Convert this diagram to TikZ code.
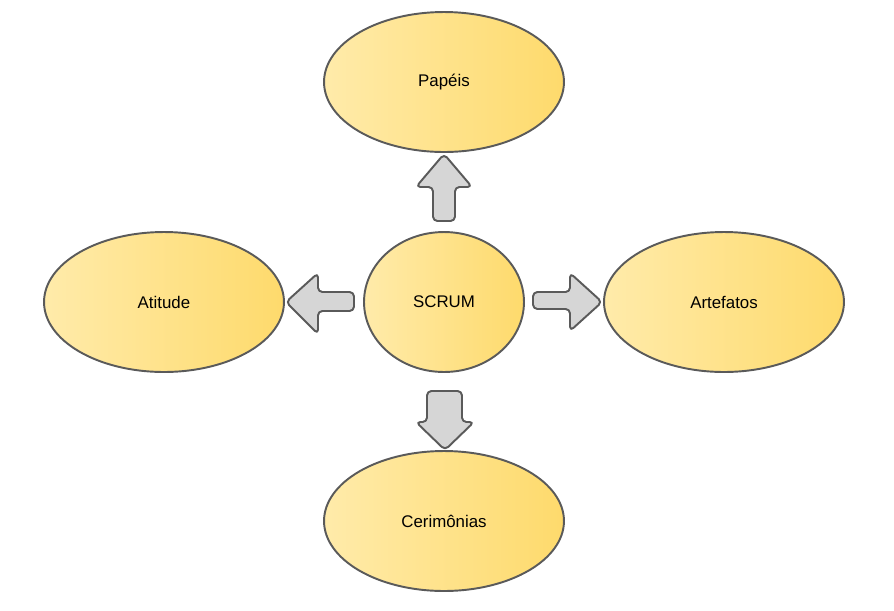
\documentclass[tikz,border=0pt]{standalone}
\usepackage{fontspec}
\setmainfont{Liberation Sans}
\usetikzlibrary{shapes.geometric}
\definecolor{scrumedge}{HTML}{5A5A5A}
\definecolor{scrumlight}{HTML}{FFEBAA}
\definecolor{scrumdark}{HTML}{FEDA6C}
\definecolor{arrowfill}{HTML}{D6D6D6}
\tikzset{
  topic/.style={ellipse, draw=scrumedge, line width=1.1pt, inner sep=0pt,
    minimum width=4.8cm, minimum height=2.8cm,
    left color=scrumlight, right color=scrumdark,
    font=\fontsize{9.6}{11}\selectfont},
  blockarrow/.style={draw=scrumedge, fill=arrowfill, line width=1.1pt,
    rounded corners=2.5pt, line join=round}
}
\begin{document}
\begin{tikzpicture}[x=0.02cm, y=-0.02cm]
  \useasboundingbox (0,0) rectangle (894,610);
  % topics
  \node[topic] (papeis) at (444,82) {Papéis};
  \node[topic] (atitude) at (164,302) {Atitude};
  \node[topic] (artefatos) at (724,302) {Artefatos};
  \node[topic] (cerimonias) at (444,521) {Cerimônias};
  \node[topic, minimum width=3.2cm] (scrum) at (444,302) {SCRUM};
  % block arrows from the centre
  \draw[blockarrow] (444,154) -- (472,187) -- (455,187) -- (455,221)
    -- (433,221) -- (433,187) -- (416,187) -- cycle;
  \draw[blockarrow] (286,302) -- (318,273) -- (318,292) -- (354,292)
    -- (354,311) -- (318,311) -- (318,334) -- cycle;
  \draw[blockarrow] (602,302) -- (570,273) -- (570,292) -- (533,292)
    -- (533,309) -- (570,309) -- (570,331) -- cycle;
  \draw[blockarrow] (445,450) -- (474,422) -- (462,422) -- (462,391)
    -- (427,391) -- (427,422) -- (416,422) -- cycle;
\end{tikzpicture}
\end{document}
